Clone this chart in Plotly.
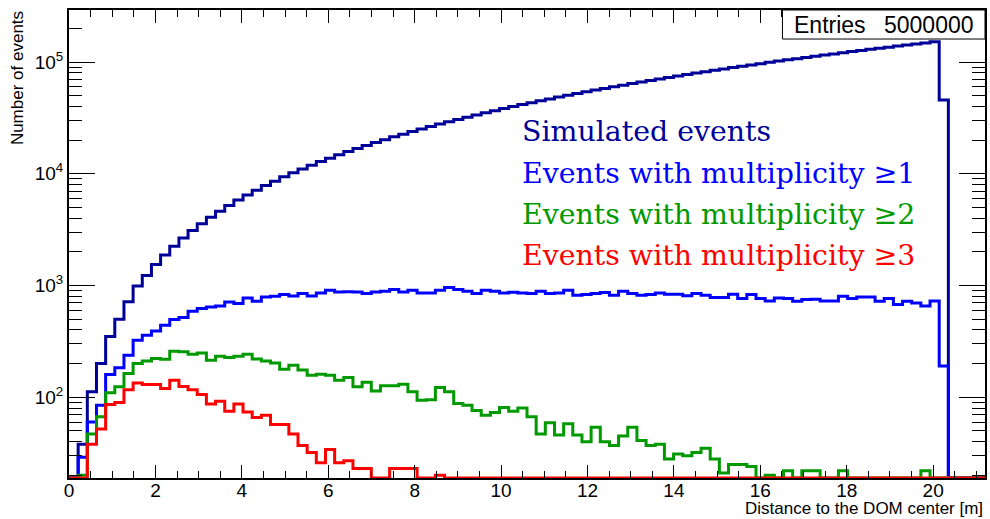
import plotly.graph_objects as go

# ---------------- data ----------------
X_MIN, X_MAX, N_BINS = 0.0, 21.2, 100

simulated = [4, 38, 112, 200, 350, 500, 715, 990, 1230, 1540,
             1880, 2250, 2660, 3100, 3570, 4080, 4630, 5200, 5820, 6460,
             7130, 7850, 8590, 9380, 10200, 11050, 11920, 12850, 13800, 14780,
             15800, 16840, 17930, 19050, 20200, 21400, 22600, 23870, 25150, 26480,
             27830, 29220, 30650, 32100, 33600, 35120, 36690, 38280, 39910, 41570,
             43270, 45000, 46760, 48560, 50400, 52260, 54160, 56090, 58060, 60060,
             62100, 64160, 66270, 68400, 70580, 72780, 75020, 77290, 79600, 81940,
             84310, 86720, 89160, 91640, 94150, 96690, 99270, 101880, 104530, 107210,
             109920, 112670, 115450, 118270, 121120, 124000, 126920, 129870, 132860, 135870,
             138930, 142010, 145130, 148290, 152000, 45700, 0, 0, 0, 0]

mult1 = [0, 29, 60, 85, 160, 184, 238, 324, 359, 392,
         441, 497, 517, 589, 623, 643, 656, 713, 690, 774,
         723, 790, 802, 830, 807, 847, 807, 859, 908, 877,
         880, 877, 847, 877, 889, 920, 877, 908, 859, 859,
         908, 959, 920, 889, 847, 908, 889, 859, 871, 859,
         847, 889, 847, 859, 908, 819, 830, 847, 865, 819,
         889, 847, 819, 830, 859, 836, 836, 808, 847, 819,
         780, 780, 836, 764, 830, 764, 728, 775, 764, 723,
         749, 754, 728, 728, 802, 764, 791, 791, 723, 764,
         675, 723, 699, 657, 728, 190, 0, 0, 0, 0]

mult2 = [0, 20, 47, 67, 110, 124, 163, 200, 211, 222,
         219, 258, 255, 243, 249, 214, 233, 227, 233, 243,
         220, 211, 203, 178, 193, 175, 157, 161, 157, 142,
         150, 124, 136, 114, 127, 127, 131, 112, 94, 95,
         122, 112, 88, 85, 76, 69, 73, 81, 75, 80,
         67, 47, 59, 46, 58, 46, 40, 54, 40, 37,
         45, 54, 41, 37, 38, 28, 31, 30, 32, 35,
         28, 21, 25, 25, 24, 0, 20, 0, 22, 0,
         22, 22, 0, 0, 22, 0, 0, 0, 0, 0,
         0, 0, 0, 22, 0, 0, 0, 0, 0, 0]

mult3 = [0, 0, 38, 52, 86, 90, 117, 134, 130, 130,
         120, 142, 125, 117, 106, 87, 92, 75, 87, 74,
         66, 69, 57, 57, 47, 37, 32, 26, 34, 26,
         27, 23, 23, 0, 0, 23, 23, 23, 0, 0,
         20, 0, 0, 0, 0, 0, 0, 0, 0, 0,
         0, 0, 0, 0, 0, 0, 0, 0, 0, 0,
         0, 0, 0, 0, 0, 0, 0, 0, 0, 0,
         0, 0, 0, 0, 0, 0, 0, 0, 0, 0,
         0, 0, 0, 0, 0, 0, 0, 0, 0, 0,
         0, 0, 0, 0, 0, 0, 0, 0, 0, 0]

series_names = ["Simulated events",
                "Events with multiplicity \u22651",
                "Events with multiplicity \u22652",
                "Events with multiplicity \u22653"]
series_colors = ["#000099", "#0000ff", "#009900", "#ff0000"]

x_tick_vals = [0, 2, 4, 6, 8, 10, 12, 14, 16, 18, 20]
y_tick_vals = [1e2, 1e3, 1e4, 1e5]
y_tick_text = ["10<sup>2</sup>", "10<sup>3</sup>", "10<sup>4</sup>", "10<sup>5</sup>"]

entries_label = "Entries"
entries_value = "5000000"
x_title = "Distance to the DOM center [m]"
y_title = "Number of events"

# ---------------- layout geometry ----------------
W, H = 990, 519
L, R, T, B = 69, 987, 10, 477.7
Y_LOG_MIN, Y_LOG_MAX = 1.2775, 5.4655
YMIN = 10 ** Y_LOG_MIN


def px(xp):
    return (xp - L) / (R - L)


def py(yp):
    return (B - yp) / (B - T)


bw = (X_MAX - X_MIN) / N_BINS
edges = [X_MIN + i * bw for i in range(N_BINS + 1)]

fig = go.Figure()
for vals, name, col in zip([simulated, mult1, mult2, mult3], series_names, series_colors):
    yv = [max(v, YMIN) for v in vals]
    fig.add_trace(go.Scatter(
        x=edges, y=yv + [yv[-1]], mode="lines", line=dict(color=col, width=3, shape="hv"),
        name=name, showlegend=False, hoverinfo="skip"))

tick_font = dict(family="Liberation Sans, Arial, sans-serif", size=19, color="black")

x_minor = [v * 0.5 for v in range(0, 43) if (v * 0.5) % 2 != 0]
y_minor = [m * 10 ** e for e in range(1, 6) for m in range(2, 10) if 10 ** Y_LOG_MIN <= m * 10 ** e <= 10 ** Y_LOG_MAX]

fig.update_xaxes(range=[X_MIN, X_MAX], showgrid=False, zeroline=False,
                 showline=True, linecolor="black", linewidth=2, mirror="allticks",
                 ticks="inside", ticklen=13, tickcolor="black", tickwidth=1,
                 tickvals=x_tick_vals, tickfont=tick_font, ticklabelstandoff=-6,
                 minor=dict(ticks="inside", ticklen=7, tickcolor="black", tickwidth=1,
                            tickvals=x_minor, showgrid=False))
fig.update_yaxes(type="log", range=[Y_LOG_MIN, Y_LOG_MAX], showgrid=False, zeroline=False,
                 showline=True, linecolor="black", linewidth=2, mirror="allticks",
                 ticks="inside", ticklen=26, tickcolor="black", tickwidth=1,
                 tickvals=y_tick_vals, ticktext=y_tick_text, tickfont=tick_font,
                 minor=dict(ticks="inside", ticklen=13, tickcolor="black", tickwidth=1,
                            tickvals=y_minor, showgrid=False))

annotations = []
# legend-like coloured text
legend_y = [131, 173, 214, 255]
for name, col, yp in zip(series_names, series_colors, legend_y):
    annotations.append(dict(x=px(521), y=py(yp), xref="paper", yref="paper",
                            text=name, showarrow=False, xanchor="left", yanchor="middle",
                            font=dict(family="DejaVu Serif, serif", size=28.4, color=col)))
# axis titles
annotations.append(dict(x=1.0, y=py(508), xref="paper", yref="paper", text=x_title,
                        showarrow=False, xanchor="right", yanchor="middle",
                        font=dict(family="Liberation Sans, Arial, sans-serif", size=17, color="black")))
annotations.append(dict(x=px(18), y=py(9), xref="paper", yref="paper", text=y_title,
                        showarrow=False, xanchor="center", yanchor="top", textangle=-90,
                        font=dict(family="Liberation Sans, Arial, sans-serif", size=17, color="black")))
# stats box text
annotations.append(dict(x=px(794), y=py(25), xref="paper", yref="paper", text=entries_label,
                        showarrow=False, xanchor="left", yanchor="middle",
                        font=dict(family="Liberation Sans, Arial, sans-serif", size=23, color="black")))
annotations.append(dict(x=px(978), y=py(25), xref="paper", yref="paper", text=entries_value,
                        showarrow=False, xanchor="right", yanchor="middle",
                        font=dict(family="Liberation Sans, Arial, sans-serif", size=23, color="black")))

shapes = [dict(type="rect", xref="paper", yref="paper", x0=px(784), x1=px(987), y0=py(39), y1=py(10),
               line=dict(color="black", width=1), fillcolor="white", layer="above")]

fig.update_layout(width=W, height=H, paper_bgcolor="white", plot_bgcolor="white",
                  margin=dict(l=L, r=W - R, t=T, b=H - B, pad=0),
                  annotations=annotations, shapes=shapes, showlegend=False)

fig.write_html("out.html", config={"displayModeBar": False},
               post_script="document.body.style.margin='0px';document.body.style.overflow='hidden';")
